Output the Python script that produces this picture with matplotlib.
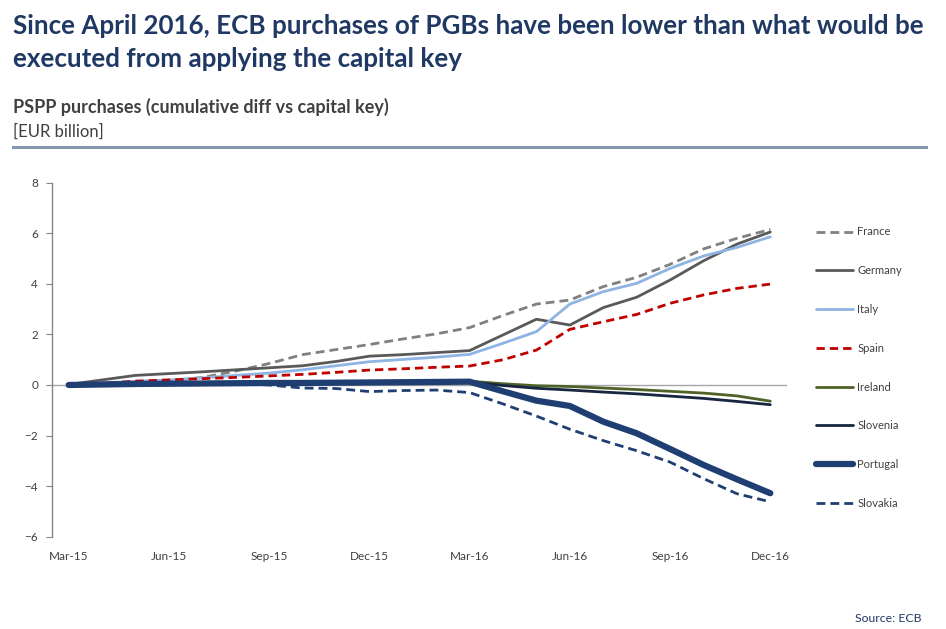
import matplotlib
matplotlib.use("Agg")
import matplotlib.pyplot as plt
from matplotlib.lines import Line2D

plt.rcParams['font.family'] = ['Lato', 'DejaVu Sans']

months = ["Mar-15", "Apr-15", "May-15", "Jun-15", "Jul-15", "Aug-15", "Sep-15",
          "Oct-15", "Nov-15", "Dec-15", "Jan-16", "Feb-16", "Mar-16", "Apr-16",
          "May-16", "Jun-16", "Jul-16", "Aug-16", "Sep-16", "Oct-16", "Nov-16", "Dec-16"]
tick_labels = ["Mar-15", "Jun-15", "Sep-15", "Dec-15", "Mar-16", "Jun-16", "Sep-16", "Dec-16"]

france   = [0.0, 0.05, 0.10, 0.15, 0.30, 0.55, 0.85, 1.20, 1.40, 1.60, 1.82, 2.02, 2.27,
            2.75, 3.20, 3.36, 3.89, 4.26, 4.77, 5.38, 5.80, 6.15]
germany  = [0.02, 0.20, 0.38, 0.45, 0.52, 0.60, 0.68, 0.76, 0.93, 1.14, 1.20, 1.28, 1.36,
            1.98, 2.60, 2.37, 3.06, 3.47, 4.15, 4.91, 5.57, 6.05]
italy    = [0.0, 0.08, 0.15, 0.20, 0.28, 0.38, 0.47, 0.60, 0.76, 0.92, 1.01, 1.10, 1.21,
            1.65, 2.11, 3.20, 3.69, 4.02, 4.61, 5.10, 5.44, 5.86]
spain    = [0.0, 0.07, 0.15, 0.20, 0.25, 0.30, 0.36, 0.42, 0.50, 0.59, 0.64, 0.70, 0.75,
            1.00, 1.38, 2.20, 2.50, 2.79, 3.23, 3.56, 3.82, 3.99]
ireland  = [0.0, 0.02, 0.04, 0.05, 0.06, 0.07, 0.08, 0.09, 0.10, 0.11, 0.12, 0.13, 0.15,
            0.05, -0.03, -0.06, -0.12, -0.18, -0.25, -0.32, -0.43, -0.64]
slovenia = [0.0, 0.02, 0.03, 0.04, 0.05, 0.06, 0.07, 0.08, 0.09, 0.10, 0.10, 0.11, 0.12,
            -0.02, -0.13, -0.20, -0.28, -0.35, -0.44, -0.53, -0.65, -0.78]
portugal = [0.0, 0.02, 0.04, 0.05, 0.06, 0.07, 0.08, 0.08, 0.09, 0.10, 0.11, 0.12, 0.13,
            -0.25, -0.62, -0.83, -1.45, -1.91, -2.53, -3.16, -3.73, -4.28]
slovakia = [0.0, 0.02, 0.03, 0.04, 0.05, 0.04, 0.0, -0.12, -0.14, -0.26, -0.22, -0.20, -0.30,
            -0.75, -1.23, -1.75, -2.20, -2.60, -3.05, -3.70, -4.30, -4.62]

fig = plt.figure(figsize=(9.46, 6.29), dpi=100)
ax = fig.add_axes([52/946, 1 - 536.7/629, (787 - 52)/946, (536.7 - 182.7)/629])

x = list(range(len(months)))
ax.axhline(0, color='#a6a6a6', lw=1.0, zorder=1)

series = [
    ("France", france, dict(color='#808080', lw=2.0, ls=(0, (3.2, 1.8)))),
    ("Germany", germany, dict(color='#595959', lw=2.0, ls='-')),
    ("Italy", italy, dict(color='#8db4e2', lw=2.0, ls='-')),
    ("Spain", spain, dict(color='#c00000', lw=2.0, ls=(0, (3.0, 1.8)))),
    ("Ireland", ireland, dict(color='#4f6228', lw=2.0, ls='-')),
    ("Slovenia", slovenia, dict(color='#17253f', lw=2.0, ls='-')),
    ("Portugal", portugal, dict(color='#1f3f73', lw=4.5, ls='-')),
    ("Slovakia", slovakia, dict(color='#1f3f73', lw=2.0, ls=(0, (3.2, 1.8)))),
]
handles = []
for name, vals, st in series:
    ln, = ax.plot(x, vals, label=name, solid_capstyle='round', dash_capstyle='butt',
                  solid_joinstyle='round', zorder=3, **st)
    handles.append(ln)

ax.set_xlim(-0.5, len(months) - 0.5)
ax.set_ylim(-6, 8)
ax.set_yticks(range(-6, 9, 2))
ax.set_xticks([months.index(t) for t in tick_labels])
ax.set_xticklabels(tick_labels)
for s in ['top', 'right', 'bottom']:
    ax.spines[s].set_visible(False)
ax.spines['left'].set_color('#868686')
ax.spines['left'].set_linewidth(1.0)
ax.tick_params(axis='y', direction='out', length=4, color='#868686', labelsize=8.5,
               labelcolor='#404040', pad=6)
ax.tick_params(axis='x', length=0, labelsize=8.5, labelcolor='#404040', pad=10)

leg = ax.legend(handles=handles, loc='upper left',
                bbox_to_anchor=(816/946, 1 - 226.5/629), bbox_transform=fig.transFigure,
                frameon=False, fontsize=8, labelspacing=2.5, handlelength=3.3,
                handletextpad=0.4, borderpad=0, borderaxespad=0)
for t in leg.get_texts():
    t.set_color('#404040')

fig.text(13/946, 1 - 26/629, "Since April 2016, ECB purchases of PGBs have been lower than what would be",
         fontsize=18.75, fontweight='bold', color='#1f3864', va='center', ha='left')
fig.text(13/946, 1 - 59/629, "executed from applying the capital key",
         fontsize=18.75, fontweight='bold', color='#1f3864', va='center', ha='left')
fig.text(13/946, 1 - 107/629, "PSPP purchases (cumulative diff vs capital key)",
         fontsize=13, fontweight='bold', color='#404040', va='center', ha='left')
fig.text(13/946, 1 - 132/629, "[EUR billion]",
         fontsize=12, color='#404040', va='center', ha='left')
fig.add_artist(Line2D([13/946, 926/946], [1 - 147/629, 1 - 147/629],
                      transform=fig.transFigure, color='#8496b0', lw=2.2))
fig.text(921/946, 1 - 618/629, "Source: ECB", fontsize=8.8, color='#1f3864',
         va='center', ha='right')

fig.savefig("out.png", dpi=100)
